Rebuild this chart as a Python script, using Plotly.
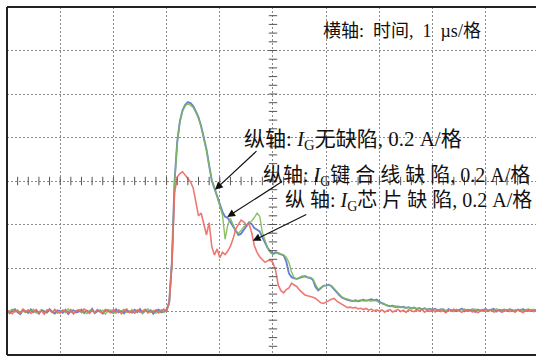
import numpy as np
import plotly.graph_objects as go

# Oscilloscope capture of the gate current I_G, sampled every 0.05 µs from 0 µs.
STEP_US = 0.05

# Gate current in mA, no defect
ig_no_defect = [
    5, -8, 3, 10, -4, -12, 6, 2, -7, 9,
    -3, 4, -10, 7, 1, -5, 11, -2, -9, 5,
    3, -6, 8, -11, 2, 6, -4, -1, 9, -7,
    4, -3, 12, -8, 1, 5, -10, 3, 7, -2,
    -6, 10, -4, 2, -9, 6, 0, -5, 8, -3,
    11, -7, 4, -1, 6, -10, 3, 9, -4, 2,
    6, 45, 230, 600, 780, 875, 925, 950, 963, 958,
    945, 920, 893, 852, 800, 745, 672, 602, 566, 528,
    497, 458, 436, 430, 412, 392, 373, 352, 358, 378,
    392, 410, 402, 384, 376, 368, 342, 318, 292, 276,
    265, 272, 268, 262, 258, 230, 175, 158, 152, 150,
    155, 160, 163, 157, 154, 146, 112, 97, 108, 118,
    120, 123, 116, 101, 88, 74, 64, 58, 54, 50,
    48, 52, 47, 50, 54, 49, 52, 56, 51, 55,
    44, 38, 30, 27, 24, 26, 21, 23, 19, 22,
    17, 20, 14, 18, 12, 16, 10, 15, 9, 13,
    8, 12, 3, 10, 6, -1, 11, 4, 9, 2,
    7, 13, 1, 8, 5, 10, -2, 9, 4, 7,
    11, 3, 6, 12, 0, 8, 5, 9, 2, 10,
    6, -1, 9, 4, 11, 3, 7, 1, 8, 5,
]

# Gate current in mA, bond-wire defect
ig_bond_wire = [
    -6, 4, 11, -3, 7, -9, 2, -5, 8, 1,
    10, -7, -2, 6, -11, 3, 9, -4, 5, -8,
    1, 7, -5, 12, -3, -9, 4, 8, -6, 2,
    -10, 5, 3, -7, 9, -1, 6, -12, 2, 8,
    -4, -8, 7, 3, 10, -5, -2, 9, -7, 4,
    1, -9, 6, 12, -3, 5, -8, -2, 8, -5,
    4, 38, 215, 590, 775, 872, 922, 945, 958, 950,
    938, 915, 888, 848, 796, 740, 668, 605, 570, 532,
    490, 445, 332, 398, 428, 402, 370, 360, 372, 390,
    398, 404, 416, 432, 452, 438, 365, 328, 290, 270,
    262, 268, 270, 264, 260, 250, 225, 180, 155, 150,
    158, 163, 160, 155, 158, 150, 125, 102, 110, 120,
    118, 121, 118, 104, 90, 78, 66, 60, 56, 52,
    50, 46, 51, 53, 48, 52, 50, 47, 53, 49,
    42, 36, 33, 29, 26, 22, 25, 20, 22, 18,
    15, 19, 13, 17, 11, 14, 9, 13, 8, 12,
    5, 11, 2, 9, 13, 4, 8, -1, 10, 6,
    3, 9, 12, 5, 1, 8, 11, 4, 7, 0,
    10, 5, 8, 2, 12, 6, -1, 9, 4, 11,
    3, 8, 6, 10, 1, 7, 12, 4, 9, 6,
]

# Gate current in mA, chip defect
ig_chip = [
    8, -5, -10, 4, 2, -7, 11, -3, 6, -9,
    -1, 9, -6, 3, -12, 7, 5, -4, 10, -2,
    -8, 6, 1, -5, 9, -11, 3, 7, -3, 12,
    2, -9, 5, -4, 8, -2, -7, 10, 1, -6,
    9, -3, 6, -10, 4, 11, -5, 2, -8, 7,
    -4, 3, 10, -7, 1, -2, 8, -6, 5, 12,
    2, 42, 220, 545, 618, 634, 642, 626, 612, 596,
    568, 512, 440, 452, 405, 352, 408, 298, 260, 288,
    248, 272, 262, 278, 300, 334, 380, 402, 420, 412,
    398, 402, 362, 302, 272, 252, 240, 226, 233, 236,
    224, 188, 120, 96, 86, 101, 108, 130, 122, 114,
    98, 88, 76, 72, 70, 66, 60, 52, 40, 37,
    42, 50, 56, 60, 48, 40, 30, 23, 18, 20,
    16, 19, 12, 15, 9, 14, 6, 11, 3, 8,
    2, 7, -3, 5, 9, -2, 4, 10, 0, 6,
    -4, 8, 3, -1, 7, 2, 9, -3, 5, 1,
    6, -2, 8, 0, 4, -5, 7, 2, -1, 9,
    3, -4, 6, 1, 8, -2, 5, -6, 2, 7,
    -1, 4, 9, -3, 2, 6, -4, 3, 8, 0,
    5, -2, 7, 1, -5, 4, 2, 8, -1, 3,
]

# Screen graticule: 1 µs/div horizontally, 0.2 A/div vertically
X_PER_DIV = 1.0
Y_PER_DIV = 0.2
Y_MIN, Y_MAX = -0.2, 1.4
X_MAX_SHOWN = 9.944          # the right-most column is cut off by the frame
X_CENTER, Y_CENTER = 5.0, 0.6

FONT = "Liberation Serif, Noto Sans CJK SC, serif"


def amps(series_ma):
    return np.asarray(series_ma, dtype=float) / 1000.0


def times(series):
    return np.arange(len(series)) * STEP_US


fig = go.Figure()

traces = [
    (ig_no_defect, "#5b72cf", "无缺陷", 1.9),
    (ig_bond_wire, "#7dbb55", "键合线缺陷", 1.4),
    (ig_chip, "#ef6a64", "芯片缺陷", 1.6),
]
for values, colour, name, width in traces:
    fig.add_trace(go.Scatter(
        x=times(values), y=amps(values), mode="lines", name=name,
        line=dict(color=colour, width=width), opacity=0.9, hoverinfo="skip",
    ))

# Small tick marks along the centre cross of the graticule
h_ticks = np.arange(0, 10 + 1e-9, X_PER_DIV / 5)
v_ticks = np.arange(Y_MIN, Y_MAX + 1e-9, Y_PER_DIV / 5)
fig.add_trace(go.Scatter(
    x=h_ticks, y=np.full_like(h_ticks, Y_CENTER), mode="markers",
    marker=dict(symbol="line-ns", size=6, line=dict(color="#555", width=1)),
    hoverinfo="skip",
))
fig.add_trace(go.Scatter(
    x=np.full_like(v_ticks, X_CENTER), y=v_ticks, mode="markers",
    marker=dict(symbol="line-ew", size=6, line=dict(color="#555", width=1)),
    hoverinfo="skip",
))

axis_common = dict(
    showgrid=True, gridcolor="#8a8a8a", gridwidth=1, griddash="2px,2px",
    showticklabels=False, ticks="", zeroline=False, showline=False,
)
fig.update_xaxes(range=[0, X_MAX_SHOWN], dtick=X_PER_DIV, tick0=0, **axis_common)
fig.update_yaxes(range=[Y_MIN, Y_MAX], dtick=Y_PER_DIV, tick0=Y_MIN, **axis_common)

# Frame: left, top and bottom edges
frame = dict(type="line", xref="paper", yref="paper", line=dict(color="#222", width=2))
fig.add_shape(x0=0, x1=0, y0=0, y1=1, **frame)
fig.add_shape(x0=0, x1=1, y0=1, y1=1, **frame)
fig.add_shape(x0=0, x1=1, y0=0, y1=0, **frame)

IG = "<i>I</i><sub>G</sub>"

# Text labels: (text, centre x in µs, centre y in A, font size)
labels = [
    ("横轴:  时间,  1  µs/格", 7.43, 1.29, 18),
    (f"纵轴: {IG}无缺陷, 0.2 A/格", 6.50, 0.788, 21),
    (f"纵轴: {IG}键 合 线 缺 陷, 0.2 A/格", 7.32, 0.623, 20),
    (f"纵 轴: {IG}芯 片 缺 陷, 0.2 A/格", 7.55, 0.508, 20),
]
for text, x, y, size in labels:
    fig.add_annotation(
        x=x, y=y, text=text, showarrow=False, xanchor="center", yanchor="middle",
        font=dict(family=FONT, size=size, color="#111"),
    )

# Pointer arrows from each label to its waveform: tip (µs, A), tail offset (px)
arrows = [
    (3.91, 0.56, 43, -40),
    (4.14, 0.435, 56, -36),
    (4.62, 0.325, 55, -27),
]
for x, y, ax, ay in arrows:
    fig.add_annotation(
        x=x, y=y, ax=ax, ay=ay, axref="pixel", ayref="pixel", text="",
        showarrow=True, arrowhead=2, arrowsize=1.3, arrowwidth=1.2,
        arrowcolor="#111",
    )

fig.update_layout(
    width=536, height=356,
    margin=dict(l=7, r=0, t=7, b=1, pad=0),
    paper_bgcolor="white", plot_bgcolor="white",
    showlegend=False,
)

fig.write_html("out.html")
